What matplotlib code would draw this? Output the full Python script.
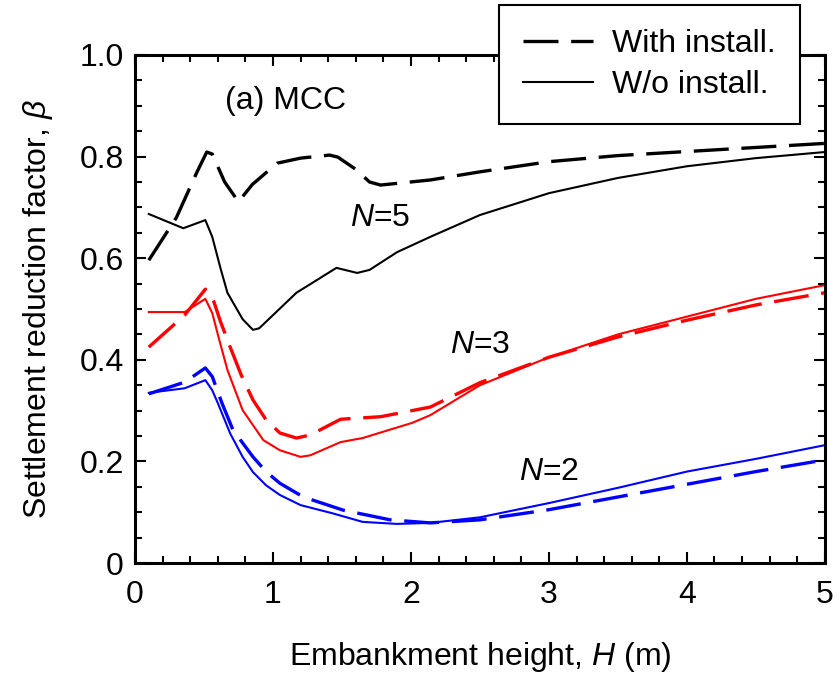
import numpy as np
import matplotlib
matplotlib.use('Agg')
import matplotlib.pyplot as plt
from matplotlib.ticker import MultipleLocator, FixedFormatter, FixedLocator

plt.rcParams['font.family'] = ['Liberation Sans', 'DejaVu Sans']
plt.rcParams['mathtext.fontset'] = 'custom'
plt.rcParams['mathtext.rm'] = 'Liberation Sans'
plt.rcParams['mathtext.it'] = 'Liberation Sans:italic'

# N=5
h5_with = [0.1, 0.3, 0.45, 0.52, 0.56, 0.65, 0.75, 0.85, 1.03, 1.2, 1.41, 1.47, 1.6, 1.7, 1.78, 2.14, 2.5, 3.0, 3.5, 4.0, 4.5, 5.0]
b5_with = [0.596, 0.68, 0.77, 0.809, 0.805, 0.75, 0.711, 0.745, 0.787, 0.797, 0.803, 0.799, 0.775, 0.75, 0.744, 0.754, 0.77, 0.79, 0.802, 0.81, 0.818, 0.826]
h5_wo = [0.1, 0.35, 0.51, 0.56, 0.62, 0.67, 0.78, 0.855, 0.9, 1.17, 1.46, 1.61, 1.7, 1.9, 2.14, 2.5, 3.0, 3.5, 4.0, 4.5, 5.0]
b5_wo = [0.687, 0.659, 0.675, 0.642, 0.58, 0.532, 0.48, 0.459, 0.462, 0.532, 0.581, 0.571, 0.577, 0.612, 0.642, 0.685, 0.728, 0.758, 0.781, 0.797, 0.809]

# N=3
h3_with = [0.1, 0.36, 0.51, 0.56, 0.62, 0.69, 0.77, 0.855, 0.95, 1.05, 1.17, 1.27, 1.49, 1.78, 2.14, 2.5, 3.0, 3.5, 4.0, 4.5, 5.0]
b3_with = [0.425, 0.488, 0.539, 0.524, 0.475, 0.425, 0.37, 0.321, 0.282, 0.256, 0.246, 0.252, 0.283, 0.288, 0.307, 0.355, 0.405, 0.445, 0.478, 0.508, 0.532]
h3_wo = [0.1, 0.36, 0.51, 0.56, 0.61, 0.67, 0.78, 0.93, 1.05, 1.2, 1.27, 1.49, 1.65, 2.01, 2.14, 2.5, 3.0, 3.5, 4.0, 4.5, 5.0]
b3_wo = [0.494, 0.494, 0.52, 0.492, 0.44, 0.38, 0.301, 0.242, 0.222, 0.209, 0.212, 0.238, 0.246, 0.276, 0.291, 0.35, 0.405, 0.45, 0.485, 0.52, 0.547]

# N=2
h2_with = [0.1, 0.36, 0.51, 0.56, 0.63, 0.71, 0.855, 0.95, 1.05, 1.22, 1.51, 1.85, 2.14, 2.5, 3.0, 3.5, 4.0, 4.5, 5.0]
b2_with = [0.333, 0.356, 0.384, 0.367, 0.315, 0.262, 0.209, 0.18, 0.157, 0.13, 0.104, 0.085, 0.079, 0.085, 0.105, 0.13, 0.155, 0.18, 0.203]
h2_wo = [0.1, 0.36, 0.51, 0.56, 0.6, 0.69, 0.78, 0.855, 0.95, 1.05, 1.2, 1.43, 1.65, 1.9, 2.14, 2.5, 3.0, 3.5, 4.0, 4.5, 5.0]
b2_wo = [0.335, 0.344, 0.36, 0.34, 0.315, 0.255, 0.209, 0.179, 0.153, 0.134, 0.114, 0.098, 0.081, 0.077, 0.079, 0.09, 0.118, 0.148, 0.18, 0.205, 0.232]

x_ticks = [0, 1, 2, 3, 4, 5]
y_ticks = [0, 0.2, 0.4, 0.6, 0.8, 1.0]
y_tick_labels = ['0', '0.2', '0.4', '0.6', '0.8', '1.0']

dash = (0, (10.5, 3.8))
fs = 23

fig = plt.figure(figsize=(8.4, 6.79), dpi=100)
ax = fig.add_axes([0.1607, 0.1708, 0.8213, 0.7482])

ax.plot(h5_with, b5_with, color='black', lw=2.4, linestyle=dash, label='With install.')
ax.plot(h5_wo, b5_wo, color='black', lw=1.5, label='W/o install.')
ax.plot(h3_with, b3_with, color='red', lw=2.4, linestyle=dash)
ax.plot(h3_wo, b3_wo, color='red', lw=1.5)
ax.plot(h2_with, b2_with, color='blue', lw=2.4, linestyle=dash)
ax.plot(h2_wo, b2_wo, color='blue', lw=1.5)

ax.set_xlim(0, 5)
ax.set_ylim(0, 1.0)
ax.xaxis.set_major_locator(FixedLocator(x_ticks))
ax.xaxis.set_minor_locator(MultipleLocator(0.2))
ax.yaxis.set_major_locator(FixedLocator(y_ticks))
ax.yaxis.set_major_formatter(FixedFormatter(y_tick_labels))
ax.yaxis.set_minor_locator(MultipleLocator(0.05))
ax.tick_params(which='both', direction='in', top=True, right=True, labelsize=fs, width=1.5)
ax.tick_params(which='major', length=8)
ax.tick_params(which='minor', length=5)
ax.tick_params(axis='x', which='major', pad=12)
ax.tick_params(axis='y', which='major', pad=8)
for s in ax.spines.values():
    s.set_linewidth(2.2)

ax.set_xlabel('Embankment height, $\\it{H}$ (m)', fontsize=fs, labelpad=22)
ax.set_ylabel('Settlement reduction factor, $\\it{β}$', fontsize=fs, labelpad=18)

ax.text(1.09, 0.91, '(a) MCC', fontsize=fs, ha='center', va='center')
ax.text(1.78, 0.68, '$\\it{N}$=5', fontsize=fs, ha='center', va='center')
ax.text(2.5, 0.43, '$\\it{N}$=3', fontsize=fs, ha='center', va='center')
ax.text(3.0, 0.18, '$\\it{N}$=2', fontsize=fs, ha='center', va='center')

leg = ax.legend(loc='upper right', bbox_to_anchor=(800 / 840, 1 - 5 / 679), bbox_transform=fig.transFigure,
                fontsize=fs, frameon=True, fancybox=False, framealpha=1, edgecolor='black',
                handlelength=2.2, handletextpad=0.6, borderpad=0.75, labelspacing=0.35, borderaxespad=0)
leg.get_frame().set_linewidth(1.5)
leg.set_zorder(10)

fig.savefig('out.png', dpi=100)
